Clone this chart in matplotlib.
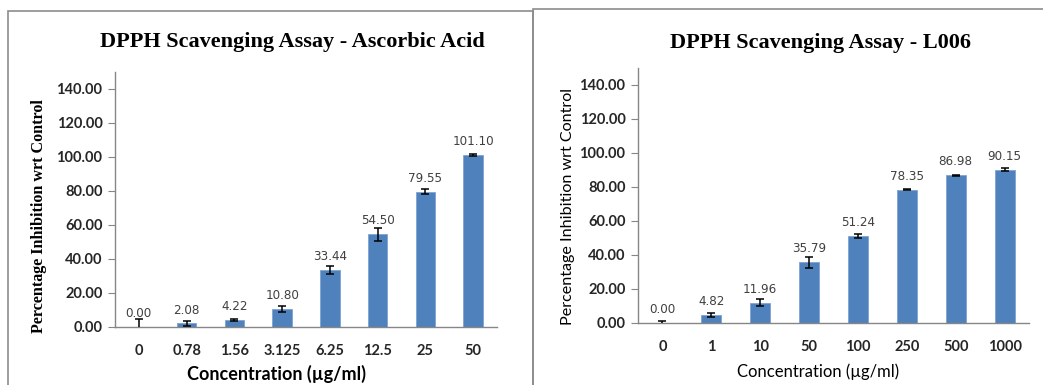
import matplotlib
matplotlib.use("Agg")
import matplotlib.pyplot as plt
import matplotlib.patches as mpatches
import numpy as np

# ── data ─────────────────────────────────────────
aa_conc = ["0", "0.78", "1.56", "3.125", "6.25", "12.5", "25", "50"]
aa_vals = [0.00, 2.08, 4.22, 10.80, 33.44, 54.50, 79.55, 101.10]
aa_err = [4.5, 1.2, 0.5, 1.8, 2.4, 3.8, 1.5, 0.6]

l6_conc = ["0", "1", "10", "50", "100", "250", "500", "1000"]
l6_vals = [0.00, 4.82, 11.96, 35.79, 51.24, 78.35, 86.98, 90.15]
l6_err = [1.2, 1.2, 2.2, 3.2, 1.0, 0.4, 0.3, 1.0]

yticks = [0, 20, 40, 60, 80, 100, 120, 140]

W, H = 1043, 385
BAR = "#4F81BD"
GRAY = "#868686"
SERIF = "Liberation Serif"
SANS = "Lato"

fig = plt.figure(figsize=(W / 100, H / 100), dpi=100)


def px_axes(left, top, right, bottom):
    return fig.add_axes([left / W, (H - bottom) / H, (right - left) / W, (bottom - top) / H])


def draw_panel(ax, cats, vals, errs, title, ylab_kw, xlab_kw, title_xy, ylab_xy, xlab_xy):
    x = np.arange(len(cats))
    ax.bar(x, vals, width=0.41, color=BAR, edgecolor="#7FA3D3", linewidth=0.6, zorder=2)
    ax.errorbar(x, vals, yerr=errs, fmt="none", ecolor="black", elinewidth=1.1,
                capsize=3, capthick=1.1, zorder=3)
    for xi, v in zip(x, vals):
        ax.annotate(f"{v:.2f}", (xi, v), xytext=(0, 5), textcoords="offset points",
                    ha="center", va="bottom", fontsize=9.5, color="#404040",
                    family="DejaVu Sans", fontstretch="condensed")
    ax.set_xlim(-0.5, len(cats) - 0.5)
    ax.set_ylim(0, 150)
    ax.set_yticks(yticks)
    ax.set_yticklabels([f"{t:.2f}" for t in yticks], fontsize=10.5, fontweight="bold",
                       family=SANS, color="#262626")
    ax.set_xticks(x)
    ax.set_xticklabels(cats, fontsize=10.5, fontweight="bold", family=SANS, color="#262626")
    ax.tick_params(axis="x", length=0, pad=12)
    ax.tick_params(axis="y", length=5, color=GRAY, direction="out", pad=4)
    for s in ["top", "right"]:
        ax.spines[s].set_visible(False)
    for s in ["left", "bottom"]:
        ax.spines[s].set_color(GRAY)
        ax.spines[s].set_linewidth(1.0)
    ax.set_ylabel("Percentage Inhibition wrt Control", **ylab_kw)
    ax.set_xlabel("Concentration (µg/ml)", **xlab_kw)
    ax.yaxis.set_label_coords(*ylab_xy)
    ax.xaxis.set_label_coords(*xlab_xy)
    fig.text(title_xy[0] / W, 1 - title_xy[1] / H, title, ha="center", va="center",
             fontsize=16, fontweight="bold", family=SERIF)


# left panel
ax1 = px_axes(115, 72, 497, 327)
draw_panel(ax1, aa_conc, aa_vals, aa_err, "DPPH Scavenging Assay - Ascorbic Acid",
           dict(fontsize=11.6, fontweight="bold", family=SERIF, va="center"),
           dict(fontsize=13, fontweight="bold", family=SANS, va="center"),
           (292, 42), (-0.2, 0.435), (0.424, -0.184))

# right panel
ax2 = px_axes(638, 68, 1029, 323)
draw_panel(ax2, l6_conc, l6_vals, l6_err, "DPPH Scavenging Assay - L006",
           dict(fontsize=11.6, family=SANS, va="center"),
           dict(fontsize=12, family=SANS, va="center"),
           (820, 43), (-0.179, 0.455), (0.46, -0.192))

# panel borders
fig.add_artist(mpatches.Rectangle((8 / W, -0.05), (533 - 8) / W, 1 - 11 / H + 0.05,
                                  transform=fig.transFigure, fill=False,
                                  edgecolor="#8c8c8c", linewidth=1.2))
fig.add_artist(mpatches.Rectangle((533 / W, -0.05), (W + 20 - 533) / W, 1 - 9 / H + 0.05,
                                  transform=fig.transFigure, fill=False,
                                  edgecolor="#8c8c8c", linewidth=1.2))

fig.savefig("out.png", dpi=100)
